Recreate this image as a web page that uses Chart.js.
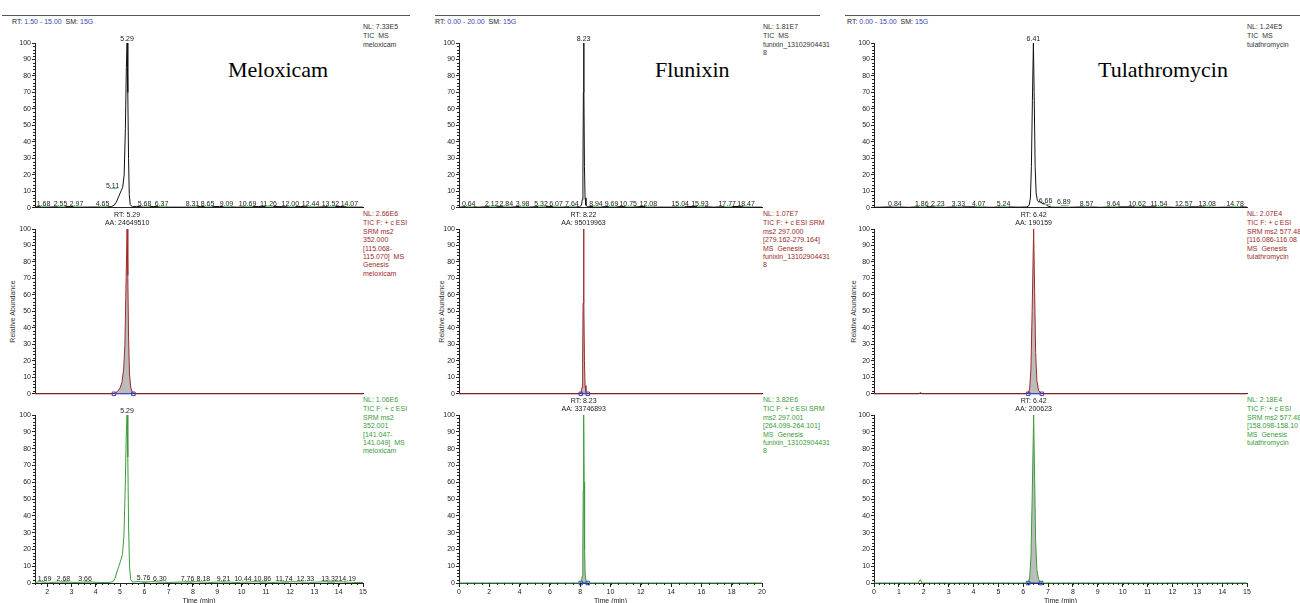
<!DOCTYPE html>
<html>
<head>
<meta charset="utf-8">
<script src="https://cdn.jsdelivr.net/npm/chart.js@4.4.1/dist/chart.umd.min.js"></script>
<style>
  body { margin: 0; width: 1300px; height: 603px; overflow: hidden; background: #fff; position: relative;
         font-family: "Liberation Sans", Arial, sans-serif; }
  canvas { position: absolute; }
  .rule { position: absolute; top: 15px; height: 1px; background: #555; }
  .hdr { position: absolute; top: 18px; font-size: 7px; line-height: 8px; color: #222; white-space: nowrap; }
  .hdr span { color: #3848b8; }
  .info { position: absolute; font-size: 7px; line-height: 8.4px; white-space: nowrap; }
  .info div:first-child { margin-bottom: 1px; }
  .k { color: #333; } .r { color: #9a2a2a; } .g { color: #3a9a3a; }
  .title { position: absolute; font-family: "Liberation Serif", "Times New Roman", serif; font-size: 22px; color: #000; }
  .ylab { position: absolute; width: 100px; text-align: center; font-size: 7px; color: #333; transform: rotate(-90deg); }
</style>
</head>
<body>
<div class="rule" style="left:2px;width:408px"></div>
<div class="rule" style="left:435px;width:385px"></div>
<div class="rule" style="left:845px;width:455px"></div>

<div class="hdr" style="left:12px">RT: <span>1.50 - 15.00</span>&nbsp;&nbsp;SM: <span>15G</span></div>
<div class="hdr" style="left:435px">RT: <span>0.00 - 20.00</span>&nbsp;&nbsp;SM: <span>15G</span></div>
<div class="hdr" style="left:847px">RT: <span>0.00 - 15.00</span>&nbsp;&nbsp;SM: <span>15G</span></div>

<div class="title" style="left:228px;top:57px">Meloxicam</div>
<div class="title" style="left:655px;top:57px">Flunixin</div>
<div class="title" style="left:1098px;top:57px">Tulathromycin</div>

<div class="ylab" style="left:-38px;top:308px">Relative Abundance</div>
<div class="ylab" style="left:391px;top:308px">Relative Abundance</div>
<div class="ylab" style="left:803px;top:308px">Relative Abundance</div>

<div class="info k" style="left:363px;top:23px"><div>NL: 7.33E5</div><div>TIC&nbsp; MS</div><div>meloxicam</div></div>
<div class="info r" style="left:363px;top:210px"><div>NL: 2.66E6</div><div>TIC F: + c ESI</div><div>SRM ms2</div><div>352.000</div><div>[115.068-</div><div>115.070]&nbsp; MS</div><div>Genesis</div><div>meloxicam</div></div>
<div class="info g" style="left:363px;top:396px"><div>NL: 1.06E6</div><div>TIC F: + c ESI</div><div>SRM ms2</div><div>352.001</div><div>[141.047-</div><div>141.049]&nbsp; MS</div><div>meloxicam</div></div>

<div class="info k" style="left:763px;top:23px"><div>NL: 1.81E7</div><div>TIC&nbsp; MS</div><div>funixin_13102904431</div><div>8</div></div>
<div class="info r" style="left:763px;top:210px"><div>NL: 1.07E7</div><div>TIC F: + c ESI SRM</div><div>ms2 297.000</div><div>[279.162-279.164]</div><div>MS&nbsp; Genesis</div><div>funixin_13102904431</div><div>8</div></div>
<div class="info g" style="left:763px;top:396px"><div>NL: 3.82E6</div><div>TIC F: + c ESI SRM</div><div>ms2 297.001</div><div>[264.099-264.101]</div><div>MS&nbsp; Genesis</div><div>funixin_13102904431</div><div>8</div></div>

<div class="info k" style="left:1247px;top:23px"><div>NL: 1.24E5</div><div>TIC&nbsp; MS</div><div>tulathromycin</div></div>
<div class="info r" style="left:1247px;top:210px"><div>NL: 2.07E4</div><div>TIC F: + c ESI</div><div>SRM ms2 577.48</div><div>[116.086-116.08</div><div>MS&nbsp; Genesis</div><div>tulathromycin</div></div>
<div class="info g" style="left:1247px;top:396px"><div>NL: 2.18E4</div><div>TIC F: + c ESI</div><div>SRM ms2 577.48</div><div>[158.098-158.10</div><div>MS&nbsp; Genesis</div><div>tulathromycin</div></div>

<script>
// tick labels
const yTicks = [0, 10, 20, 30, 40, 50, 60, 70, 80, 90, 100]
const meloxXTicks = [2, 3, 4, 5, 6, 7, 8, 9, 10, 11, 12, 13, 14, 15]
const flunXTicks = [0, 2, 4, 6, 8, 10, 12, 14, 16, 18, 20]
const tulaXTicks = [0, 1, 2, 3, 4, 5, 6, 7, 8, 9, 10, 11, 12, 13, 14, 15]

// traces: [retention time (min), relative abundance (%)]
const meloxTic = [[1.5,0.4],[1.68,0.9],[2.0,0.4],[2.55,0.7],[2.97,0.8],[3.4,0.4],[4.0,0.5],[4.4,0.4],[4.65,0.8],
  [4.75,1.5],[4.85,3.5],[4.95,7],[5.05,10.5],[5.11,12.5],[5.17,20],[5.22,48],[5.26,85],[5.29,100],[5.32,70],
  [5.35,30],[5.38,8],[5.42,2],[5.5,0.6],[5.68,0.9],[6.0,0.4],[6.37,0.8],[7.0,0.4],[7.8,0.4],[8.31,0.8],[8.65,0.7],
  [9.09,0.8],[9.8,0.4],[10.69,0.8],[11.26,0.8],[12.0,0.6],[12.44,0.8],[13.0,0.4],[13.52,0.7],[14.07,0.8],[14.6,0.4],[15.0,0.4]]
const melox115 = [[1.5,0],[4.7,0],[4.8,0.5],[4.9,1.5],[5.0,3.5],[5.08,7],[5.15,15],[5.2,30],[5.25,70],[5.29,100],
  [5.32,72],[5.35,35],[5.39,12],[5.44,4],[5.5,1],[5.58,0],[15,0]]
const melox141 = [[1.5,0.3],[1.69,0.8],[2.1,0.3],[2.68,0.7],[3.2,0.3],[3.66,0.7],[4.2,0.3],[4.6,0.4],[4.72,1],[4.8,3],
  [4.88,7],[4.95,10],[5.02,13],[5.1,17],[5.16,28],[5.21,55],[5.26,90],[5.29,100],[5.32,75],[5.35,35],[5.39,10],
  [5.44,2],[5.52,0.5],[5.76,0.9],[6.0,0.3],[6.3,0.8],[7.0,0.3],[7.76,0.7],[8.18,0.7],[8.7,0.3],[9.21,0.7],[9.8,0.3],
  [10.44,0.7],[10.86,0.7],[11.3,0.3],[11.74,0.7],[12.33,0.7],[12.8,0.3],[13.32,0.7],[14.19,0.7],[14.6,0.3],[15,0.3]]

const flunTic = [[0,0.4],[0.64,0.9],[1.3,0.4],[2.12,0.8],[2.84,0.9],[3.4,0.4],[3.98,0.8],[4.6,0.4],[5.32,0.8],
  [6.07,0.8],[6.8,0.4],[7.64,0.9],[7.95,0.6],[8.08,1.5],[8.14,5],[8.18,20],[8.21,70],[8.23,100],[8.25,75],[8.28,25],
  [8.32,6],[8.38,1.5],[8.5,0.6],[8.94,0.9],[9.3,0.4],[9.69,0.8],[10.2,0.4],[10.75,0.8],[11.4,0.4],[12.08,0.8],
  [13,0.4],[14,0.4],[15.04,0.8],[15.93,0.8],[16.8,0.4],[17.77,0.8],[18.47,0.8],[19.2,0.4],[20,0.4]]
const flun279 = [[0,0],[7.95,0],[8.06,0.5],[8.12,4],[8.16,18],[8.19,55],[8.22,100],[8.25,60],[8.28,20],[8.32,5],
  [8.38,1],[8.48,0],[20,0]]
const flun264 = [[0,0],[7.96,0],[8.07,0.5],[8.13,4],[8.17,18],[8.2,55],[8.23,100],[8.26,60],[8.29,20],[8.33,5],
  [8.39,1],[8.49,0],[20,0]]

const tulaTic = [[0,0.3],[0.84,0.6],[1.4,0.3],[1.86,0.7],[2.23,0.7],[2.8,0.3],[3.33,0.6],[4.07,0.6],[4.7,0.3],
  [5.24,0.6],[5.8,0.4],[6.15,0.5],[6.24,1.5],[6.29,6],[6.33,25],[6.37,65],[6.41,100],[6.44,70],[6.48,25],[6.52,9],
  [6.57,4.5],[6.62,3.5],[6.66,4],[6.75,2.8],[6.89,2.2],[7.0,1],[7.15,0.4],[7.8,0.3],[8.57,0.6],[9.1,0.3],[9.64,0.6],
  [10.62,0.6],[11.54,0.6],[12.1,0.3],[12.57,0.6],[13.08,0.6],[13.8,0.3],[14.78,0.6],[15,0.4]]
const tula116 = [[0,0],[1.8,0],[1.87,0.8],[1.94,0],[6.1,0],[6.2,0.5],[6.26,3],[6.31,15],[6.36,50],[6.42,100],
  [6.46,62],[6.5,25],[6.55,8],[6.62,2],[6.72,0.3],[6.8,0],[15,0]]
const tula158 = [[0,0],[1.78,0],[1.86,2],[1.94,0],[6.1,0],[6.2,0.5],[6.26,3],[6.31,15],[6.36,50],[6.42,100],
  [6.46,62],[6.5,25],[6.55,8],[6.62,2],[6.72,0.3],[6.8,0],[15,0]]

// labelled minor peaks: [peak rt, time where the label sits, label height %]
const meloxTicPeaks = [[1.68,1.85,0.8],[2.55,2.55,0.8],[2.97,3.21,0.8],[4.65,4.28,0.8],[5.11,4.69,12],
  [5.68,6.01,0.8],[6.37,6.71,0.8],[8.31,7.98,0.8],[8.65,8.60,0.8],[9.09,9.38,0.8],[10.69,10.25,0.8],
  [11.26,11.11,0.8],[12.00,12.01,0.8],[12.44,12.84,0.8],[13.52,13.66,0.8],[14.07,14.44,0.8]]
const melox141Peaks = [[1.69,1.89,0.8],[2.68,2.67,0.8],[3.66,3.56,0.8],[5.76,5.97,1.2],[6.30,6.64,0.8],
  [7.76,7.78,0.8],[8.18,8.43,0.8],[9.21,9.26,0.8],[10.44,10.06,0.8],[10.86,10.86,0.8],[11.74,11.75,0.8],
  [12.33,12.63,0.8],[13.32,13.64,0.8],[14.19,14.35,0.8]]
const flunTicPeaks = [[0.64,0.64,1],[2.12,2.16,1],[2.84,3.12,1],[3.98,4.2,1],[5.32,5.41,1],[6.07,6.4,1],
  [7.64,7.45,1],[8.94,9.04,1],[9.69,10.07,1],[10.75,11.17,1],[12.08,12.5,1],[15.04,14.6,1],[15.93,15.9,1],
  [17.77,17.7,1],[18.47,18.95,1]]
const tulaTicPeaks = [[0.84,0.84,0.8],[1.86,1.92,0.8],[2.23,2.57,0.8],[3.33,3.39,0.8],[4.07,4.21,0.8],
  [5.24,5.21,0.8],[6.66,6.9,2.4],[6.89,7.63,1.8],[8.57,8.55,0.8],[9.64,9.62,0.8],[10.62,10.58,0.8],
  [11.54,11.46,0.8],[12.57,12.46,0.8],[13.08,13.4,0.8],[14.78,14.52,0.8]]

const fam = '"Liberation Sans", Arial, sans-serif'
const lineColors = ['#111111', '#9e2b2b', '#3b9b3b']
const blue = '#3344cc'

const panels = [
  { axisX: 35, xEnd: 363, min: 1.5, max: 15, ticks: meloxXTicks, minor: 0.25 },
  { axisX: 459, xEnd: 762, min: 0, max: 20, ticks: flunXTicks, minor: 0.5 },
  { axisX: 874, xEnd: 1247, min: 0, max: 15, ticks: tulaXTicks, minor: 0.2 }
]
const rows = [{ top: 43, bottom: 211 }, { top: 229, bottom: 397 }, { top: 415, bottom: 583 }]

const charts = [
  { panel: 0, row: 0, trace: meloxTic, peaks: meloxTicPeaks, apex: 5.29 },
  { panel: 0, row: 1, trace: melox115, area: [4.75, 5.55], rt: 5.29, aa: '24649510' },
  { panel: 0, row: 2, trace: melox141, peaks: melox141Peaks, apex: 5.29 },
  { panel: 1, row: 0, trace: flunTic, peaks: flunTicPeaks, apex: 8.23 },
  { panel: 1, row: 1, trace: flun279, area: [8.04, 8.5], rt: 8.22, aa: '95019963' },
  { panel: 1, row: 2, trace: flun264, area: [8.04, 8.5], rt: 8.23, aa: '33746893' },
  { panel: 2, row: 0, trace: tulaTic, peaks: tulaTicPeaks, apex: 6.41 },
  { panel: 2, row: 1, trace: tula116, area: [6.2, 6.75], rt: 6.42, aa: '190159' },
  { panel: 2, row: 2, trace: tula158, area: [6.2, 6.72], rt: 6.42, aa: '200623' }
]

// peak labels, RT/AA labels and minor ticks
const annotate = {
  id: 'annotate',
  afterDatasetsDraw(chart, args, o) {
    const { ctx, chartArea } = chart
    const x = chart.scales.x, y = chart.scales.y
    ctx.save()
    ctx.font = '7px ' + fam
    ctx.fillStyle = '#222'
    ctx.textAlign = 'center'
    ctx.textBaseline = 'alphabetic'
    ;(o.peaks || []).forEach(([rt, at, h]) => {
      const px = x.getPixelForValue(at), py = y.getPixelForValue(h)
      ctx.fillText(rt.toFixed(2), px, py - 0.5)
      ctx.strokeStyle = '#7cc87c'
      ctx.lineWidth = 1
      ctx.beginPath()
      ctx.moveTo(px - 3, Math.round(py) + 0.5)
      ctx.lineTo(px + 5, Math.round(py) + 0.5)
      ctx.stroke()
    })
    if (o.apex) {
      ctx.fillText(o.apex.toFixed(2), x.getPixelForValue(o.apex), y.getPixelForValue(100) - 2.5)
    }
    if (o.rt) {
      const px = x.getPixelForValue(o.rt)
      ctx.fillText('RT: ' + o.rt.toFixed(2), px, chartArea.top - 12.5)
      ctx.fillText('AA: ' + o.aa, px, chartArea.top - 4.5)
    }
    ctx.strokeStyle = '#222'
    ctx.lineWidth = 1
    ctx.beginPath()
    for (let v = 2; v < 100; v += 2) {
      if (v % 10 === 0) continue
      const py = Math.round(y.getPixelForValue(v)) + 0.5
      ctx.moveTo(chartArea.left - 2, py)
      ctx.lineTo(chartArea.left, py)
    }
    if (o.minor) {
      const n = Math.round((x.max - x.min) / o.minor)
      for (let i = 0; i <= n; i++) {
        const v = x.min + i * o.minor
        const px = Math.round(x.getPixelForValue(v)) + 0.5
        ctx.moveTo(px, chartArea.bottom)
        ctx.lineTo(px, chartArea.bottom + 2)
      }
    }
    ctx.stroke()
    ctx.restore()
  }
}

function build(spec) {
  const p = panels[spec.panel], r = rows[spec.row]
  const isBottom = spec.row === 2
  const padTop = 20, yW = 30, padR = 8
  const xH = isBottom ? 22 : 0, padB = isBottom ? 0 : 2
  const cv = document.createElement('canvas')
  const left = p.axisX - yW, top = r.top - padTop
  cv.width = p.xEnd - left + padR
  cv.height = padTop + (r.bottom - r.top) + xH + padB
  cv.style.left = left + 'px'
  cv.style.top = top + 'px'
  document.body.appendChild(cv)

  const toXY = arr => arr.map(([x, y]) => ({ x, y }))
  const datasets = [{
    data: toXY(spec.trace), borderColor: lineColors[spec.row], borderWidth: 1,
    pointRadius: 0, fill: false, tension: 0, clip: 3
  }]
  if (spec.area) {
    const [a, b] = spec.area
    datasets.push({
      data: [{ x: a, y: 0 }, { x: b, y: 0 }], borderColor: blue, borderWidth: 1, fill: false,
      pointStyle: 'rect', pointRadius: 2.5, pointBorderColor: blue, pointBorderWidth: 1,
      pointBackgroundColor: 'rgba(0,0,0,0)', clip: 6
    })
    datasets.push({
      data: toXY(spec.trace.filter(q => q[0] >= a && q[0] <= b)), borderWidth: 0, pointRadius: 0,
      backgroundColor: '#bcbcbc', fill: 'origin', tension: 0, clip: 3
    })
  }

  new Chart(cv, {
    type: 'line',
    data: { datasets },
    plugins: [annotate],
    options: {
      responsive: false,
      animation: false,
      events: [],
      layout: { padding: { top: padTop, right: padR, bottom: padB, left: 0 } },
      plugins: {
        legend: { display: false },
        tooltip: { enabled: false },
        annotate: { peaks: spec.peaks, apex: spec.apex, rt: spec.rt, aa: spec.aa, minor: isBottom ? p.minor : 0 }
      },
      scales: {
        x: {
          type: 'linear', min: p.min, max: p.max,
          afterBuildTicks: s => { s.ticks = p.ticks.map(v => ({ value: v })) },
          afterFit: s => { s.height = xH },
          ticks: { display: isBottom, autoSkip: false, maxRotation: 0, padding: 1, color: '#222', font: { size: 7, family: fam } },
          grid: { drawOnChartArea: false, drawTicks: isBottom, tickLength: 4, color: '#222' },
          border: { color: '#222', width: 1 },
          title: { display: isBottom, text: 'Time (min)', color: '#222', padding: 0, font: { size: 7, family: fam } }
        },
        y: {
          min: 0, max: 100,
          afterBuildTicks: s => { s.ticks = yTicks.map(v => ({ value: v })) },
          afterFit: s => { s.width = yW },
          ticks: { padding: 1, color: '#222', font: { size: 7, family: fam } },
          grid: { drawOnChartArea: false, tickLength: 3, color: '#222' },
          border: { color: '#222', width: 1 }
        }
      }
    }
  })
}

charts.forEach(build)
</script>
</body>
</html>
